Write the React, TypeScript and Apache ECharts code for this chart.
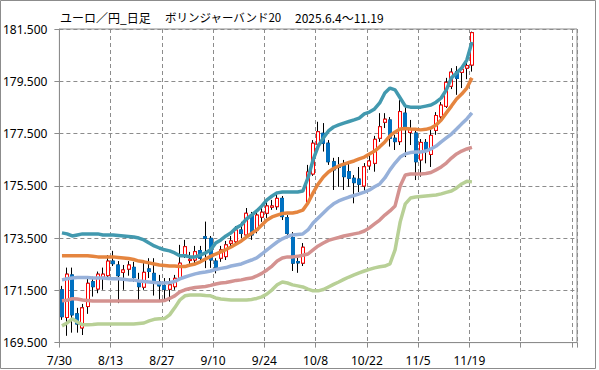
import React, { useEffect, useRef } from "react";
import * as echarts from "echarts";

// x tick labels (every 10 trading days, at band boundaries)
const tickLabels = ["7/30", "8/13", "8/27", "9/10", "9/24", "10/8", "10/22", "11/5", "11/19"];
// y tick labels (169.5 .. 181.5, step 2)
const yTickLabels = ["169.500", "171.500", "173.500", "175.500", "177.500", "179.500", "181.500"];
const slotCount = 101; // category slots on the x axis (data fills the first 81)

const open = [
  171.52, 170.46, 172.09, 170.60, 170.06, 170.88, 171.83, 171.55, 172.00, 172.06,
  172.62, 172.47, 172.19, 172.31, 172.38, 171.86, 171.62, 172.32, 172.15, 171.83,
  171.68, 171.54, 171.64, 171.96, 172.85, 172.64, 172.66, 173.02, 173.55, 173.49,
  172.62, 172.73, 172.79, 173.30, 173.36, 173.81, 173.62, 174.38, 173.81, 174.30,
  174.45, 174.68, 174.70, 175.02, 174.28, 173.52, 172.60, 172.54, 174.88, 175.95,
  177.09, 177.51, 177.13, 176.42, 176.26, 176.30, 176.04, 175.79, 175.76, 175.49,
  176.26, 176.36, 177.32, 177.93, 178.02, 177.32, 177.19, 178.28, 177.54, 177.52,
  176.49, 177.16, 176.70, 177.62, 178.14, 178.54, 179.31, 179.87, 179.84, 180.00,
  180.12,
];
const close = [
  170.49, 172.12, 170.56, 170.21, 170.83, 171.77, 171.64, 172.12, 172.12, 172.62,
  172.52, 172.06, 172.28, 172.47, 171.99, 171.64, 172.19, 172.22, 171.77, 171.67,
  171.54, 171.71, 171.96, 172.54, 173.17, 172.69, 172.98, 172.73, 173.49, 172.66,
  172.38, 173.05, 173.24, 173.39, 173.81, 173.68, 174.45, 173.62, 174.38, 174.49,
  174.73, 174.73, 175.02, 174.32, 173.68, 172.54, 172.55, 173.15, 176.03, 177.13,
  177.57, 177.13, 176.42, 176.11, 176.21, 175.85, 175.79, 175.62, 175.56, 176.23,
  176.45, 177.28, 177.76, 178.05, 177.32, 177.19, 178.34, 177.67, 177.67, 176.42,
  177.16, 176.83, 177.43, 178.19, 178.59, 179.46, 179.85, 179.61, 179.96, 180.10,
  181.36,
];
const low = [
  170.37, 169.76, 169.88, 169.88, 169.79, 170.60, 171.26, 171.39, 171.52, 171.97,
  172.43, 171.01, 171.52, 172.06, 171.83, 171.13, 171.52, 171.97, 171.30, 171.06,
  171.13, 171.07, 171.52, 171.86, 172.74, 172.47, 172.47, 172.59, 172.35, 172.36,
  172.15, 172.59, 172.66, 173.12, 173.24, 173.50, 173.50, 173.43, 173.68, 174.12,
  174.27, 174.58, 174.58, 174.19, 173.50, 172.24, 172.17, 172.43, 174.77, 175.88,
  176.99, 176.81, 176.30, 175.34, 175.46, 175.34, 175.46, 174.83, 175.26, 175.26,
  176.11, 176.04, 177.18, 177.71, 177.00, 176.87, 177.06, 176.60, 177.06, 175.72,
  175.85, 176.36, 176.22, 177.45, 178.02, 178.48, 179.20, 178.98, 179.24, 179.58,
  179.87,
];
const high = [
  171.67, 172.37, 172.37, 170.83, 170.98, 172.02, 172.02, 172.22, 172.37, 172.85,
  173.01, 172.62, 172.47, 172.62, 172.59, 172.17, 172.54, 172.73, 172.73, 172.09,
  171.97, 171.97, 172.09, 173.24, 173.43, 172.97, 173.20, 173.20, 174.13, 173.58,
  172.73, 173.20, 173.39, 173.58, 173.96, 174.12, 174.65, 174.50, 174.50, 174.73,
  174.88, 174.96, 175.15, 175.11, 174.38, 173.73, 172.85, 173.31, 176.30, 177.25,
  177.95, 177.90, 177.25, 176.57, 176.60, 176.49, 176.37, 175.91, 176.22, 176.37,
  176.68, 177.41, 178.28, 178.28, 178.13, 177.45, 178.78, 178.52, 178.02, 177.64,
  177.29, 177.29, 177.64, 178.32, 178.71, 179.63, 180.00, 180.08, 180.08, 180.31,
  181.40,
];

const upper2 = [
  173.70, 173.66, 173.58, 173.62, 173.66, 173.66, 173.66, 173.66, 173.62, 173.62,
  173.62, 173.60, 173.58, 173.56, 173.54, 173.50, 173.43, 173.31, 173.20, 173.12,
  173.05, 173.01, 172.93, 172.82, 172.82, 172.78, 172.78, 172.85, 172.93, 173.05,
  173.31, 173.43, 173.58, 173.70, 173.89, 174.00, 174.23, 174.38, 174.54, 174.73,
  174.96, 175.11, 175.23, 175.26, 175.26, 175.26, 175.26, 175.30, 175.80, 176.49,
  177.02, 177.33, 177.60, 177.75, 177.83, 177.90, 177.96, 178.02, 178.09, 178.25,
  178.32, 178.44, 178.67, 179.05, 179.24, 179.17, 178.86, 178.55, 178.51, 178.51,
  178.51, 178.55, 178.59, 178.70, 178.86, 179.17, 179.63, 179.82, 180.01, 180.31,
  181.00,
];
const upper1 = [
  172.82, 172.82, 172.82, 172.82, 172.82, 172.82, 172.80, 172.78, 172.78, 172.78,
  172.78, 172.76, 172.74, 172.72, 172.68, 172.62, 172.59, 172.55, 172.51, 172.47,
  172.45, 172.43, 172.43, 172.41, 172.41, 172.47, 172.51, 172.59, 172.70, 172.80,
  172.89, 172.97, 173.06, 173.16, 173.27, 173.39, 173.54, 173.68, 173.81, 174.00,
  174.19, 174.31, 174.38, 174.44, 174.46, 174.46, 174.50, 174.57, 174.84, 175.23,
  175.57, 175.84, 176.03, 176.16, 176.26, 176.33, 176.39, 176.45, 176.53, 176.60,
  176.72, 176.83, 176.99, 177.18, 177.41, 177.56, 177.67, 177.69, 177.67, 177.66,
  177.64, 177.66, 177.71, 177.83, 178.02, 178.29, 178.55, 178.82, 179.01, 179.24,
  179.63,
];
const middle = [
  171.90, 171.94, 171.97, 171.99, 171.99, 171.99, 171.97, 171.97, 171.97, 171.95,
  171.94, 171.94, 171.92, 171.90, 171.90, 171.86, 171.84, 171.82, 171.80, 171.78,
  171.78, 171.80, 171.84, 171.94, 172.01, 172.07, 172.13, 172.17, 172.20, 172.24,
  172.30, 172.34, 172.37, 172.43, 172.47, 172.51, 172.59, 172.66, 172.74, 172.89,
  173.05, 173.20, 173.35, 173.47, 173.56, 173.62, 173.64, 173.66, 173.81, 174.08,
  174.27, 174.46, 174.65, 174.81, 174.92, 175.00, 175.07, 175.13, 175.19, 175.26,
  175.34, 175.46, 175.57, 175.80, 176.11, 176.37, 176.60, 176.72, 176.77, 176.79,
  176.79, 176.83, 176.91, 177.02, 177.18, 177.33, 177.48, 177.67, 177.87, 178.06,
  178.29,
];
const lower1 = [
  171.10, 171.12, 171.18, 171.17, 171.13, 171.11, 171.09, 171.09, 171.09, 171.09,
  171.09, 171.09, 171.09, 171.09, 171.09, 171.09, 171.09, 171.09, 171.09, 171.09,
  171.11, 171.19, 171.29, 171.44, 171.52, 171.57, 171.61, 171.63, 171.65, 171.69,
  171.74, 171.78, 171.80, 171.84, 171.88, 171.90, 171.94, 171.97, 172.05, 172.15,
  172.28, 172.43, 172.62, 172.74, 172.78, 172.78, 172.80, 172.84, 172.89, 173.05,
  173.20, 173.31, 173.41, 173.47, 173.52, 173.58, 173.62, 173.66, 173.70, 173.77,
  173.89, 174.04, 174.19, 174.38, 174.54, 174.73, 175.49, 175.91, 175.95, 175.95,
  175.95, 175.97, 176.01, 176.11, 176.22, 176.37, 176.56, 176.72, 176.83, 176.91,
  176.97,
];
const lower2 = [
  170.14, 170.25, 170.41, 170.29, 170.18, 170.18, 170.19, 170.21, 170.21, 170.21,
  170.21, 170.21, 170.21, 170.21, 170.21, 170.23, 170.25, 170.33, 170.39, 170.41,
  170.42, 170.56, 170.83, 171.13, 171.29, 171.32, 171.32, 171.32, 171.30, 171.29,
  171.21, 171.17, 171.15, 171.13, 171.13, 171.13, 171.13, 171.15, 171.19, 171.25,
  171.36, 171.52, 171.71, 171.82, 171.78, 171.71, 171.67, 171.63, 171.55, 171.48,
  171.48, 171.53, 171.63, 171.73, 171.82, 171.92, 172.01, 172.09, 172.17, 172.24,
  172.30, 172.36, 172.40, 172.43, 172.51, 173.05, 174.12, 174.81, 175.03, 175.07,
  175.09, 175.11, 175.13, 175.15, 175.19, 175.25, 175.30, 175.42, 175.57, 175.67,
  175.65,
];

const bands = [
  { name: "+2σ", data: upper2, color: "#4299AF" },
  { name: "+1σ", data: upper1, color: "#E5853F" },
  { name: "20MA", data: middle, color: "#97B1DA" },
  { name: "-1σ", data: lower1, color: "#D49290" },
  { name: "-2σ", data: lower2, color: "#B8D096" },
];

const GRID = "#8c8c8c";
const FONT = '"Noto Sans", "Noto Sans CJK JP", sans-serif';
const TITLE_FONT = '"Noto Sans CJK JP", "Noto Sans", sans-serif';

export default function App() {
  const ref = useRef<HTMLDivElement>(null);
  useEffect(() => {
    const chart = echarts.init(ref.current!, null, { renderer: "svg" });
    const categories = Array.from({ length: slotCount }, (_, i) => String(i));
    const full = open.map((o, i) => [o, close[i], low[i], high[i]]);
    const body = open.map((o, i) => [o, close[i], Math.min(o, close[i]), Math.max(o, close[i])]);
    const yMin = 169.5;
    const yMax = 181.5;
    const yStep = 2;

    chart.setOption({
      animation: false,
      backgroundColor: "#ffffff",
      grid: {
        left: 58,
        right: 22,
        top: 29,
        bottom: 27.4,
        show: true,
        borderColor: GRID,
        borderWidth: 1,
        backgroundColor: "transparent",
      },
      graphic: [
        {
          type: "rect",
          shape: { x: 0.5, y: 0.5, width: 595, height: 368 },
          style: { fill: "none", stroke: "#8c8c8c", lineWidth: 1 },
          silent: true,
        },
        {
          type: "text",
          x: 60,
          y: 17,
          style: { text: "ユーロ／円_日足", fontSize: 12, fontFamily: TITLE_FONT, fill: "#000", verticalAlign: "middle" },
        },
        {
          type: "text",
          x: 165,
          y: 17,
          style: { text: "ボリンジャーバンド20", fontSize: 11.5, fontFamily: TITLE_FONT, fill: "#000", verticalAlign: "middle" },
        },
        {
          type: "text",
          x: 295,
          y: 17,
          style: { text: "2025.6.4～11.19", fontSize: 12, fontFamily: TITLE_FONT, fill: "#000", verticalAlign: "middle" },
        },
      ],
      xAxis: [
        {
          type: "category",
          data: categories,
          boundaryGap: true,
          show: false,
        },
        {
          type: "value",
          min: 0,
          max: slotCount,
          interval: 10,
          position: "bottom",
          axisLine: { show: true, lineStyle: { color: GRID } },
          axisTick: { show: true, length: 5, lineStyle: { color: GRID } },
          axisLabel: {
            margin: 12,
            color: "#000",
            fontSize: 12,
            fontFamily: FONT,
            formatter: (v: number) => {
              const k = Math.round(v / 10);
              return v % 10 === 0 && tickLabels[k] ? tickLabels[k] : "";
            },
          },
          splitLine: { show: true, lineStyle: { color: GRID, type: [4, 3], width: 1 } },
        },
      ],
      yAxis: [
        {
          type: "value",
          min: yMin,
          max: yMax,
          show: false,
          splitLine: { show: false },
        },
        {
          type: "value",
          min: 0,
          max: yMax - yMin,
          interval: yStep,
          position: "left",
          axisLine: { show: true, lineStyle: { color: GRID } },
          axisTick: { show: true, length: 5, lineStyle: { color: GRID } },
          axisLabel: {
            margin: 12,
            color: "#000",
            fontSize: 12,
            fontFamily: FONT,
            formatter: (v: number) => yTickLabels[Math.round(v / yStep)] ?? "",
          },
          splitLine: { show: true, lineStyle: { color: GRID, type: [4, 3], width: 1 } },
        },
      ],
      series: [
        {
          type: "candlestick",
          name: "wick",
          xAxisIndex: 0,
          yAxisIndex: 0,
          data: full,
          barWidth: 3.5,
          itemStyle: { color: "#000", color0: "#000", borderColor: "#000", borderColor0: "#000", borderWidth: 1 },
          z: 3,
        },
        {
          type: "candlestick",
          name: "body",
          xAxisIndex: 0,
          yAxisIndex: 0,
          data: body,
          barWidth: 3.5,
          itemStyle: {
            color: "#ffffff",
            color0: "#0070C0",
            borderColor: "#FF0000",
            borderColor0: "#0070C0",
            borderWidth: 1,
          },
          z: 4,
        },
        ...bands.map((b) => ({
          type: "line",
          name: b.name,
          xAxisIndex: 0,
          yAxisIndex: 0,
          data: b.data,
          showSymbol: false,
          symbol: "none",
          lineStyle: { color: b.color, width: 3.5 },
          itemStyle: { color: b.color },
          z: 5,
        })),
      ],
    });
    return () => chart.dispose();
  }, []);
  return <div ref={ref} style={{ position: "absolute", left: 0, top: 0, width: 599, height: 370 }} />;
}
